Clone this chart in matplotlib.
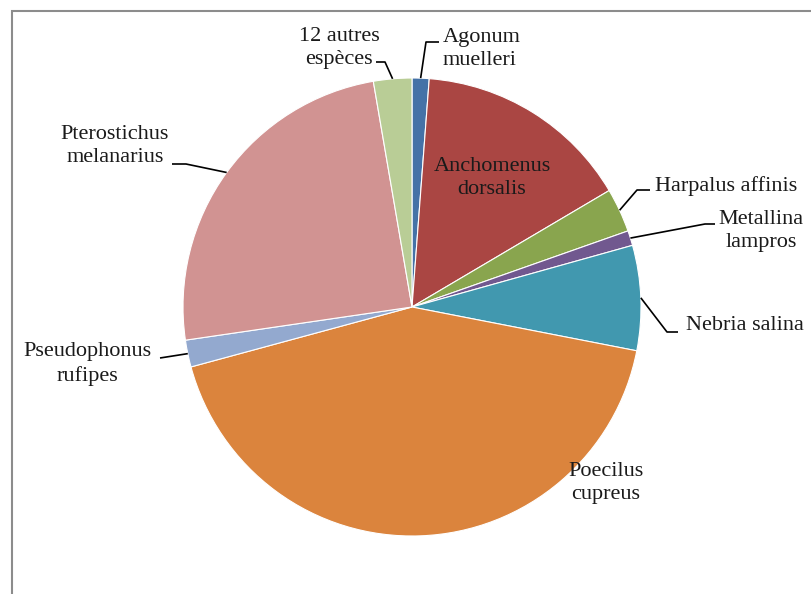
import numpy as np
import matplotlib
matplotlib.use("Agg")
import matplotlib.pyplot as plt
from matplotlib.patches import Rectangle

labels = ["Agonum\nmuelleri", "Anchomenus\ndorsalis", "Harpalus affinis",
          "Metallina\nlampros", "Nebria salina", "Poecilus\ncupreus",
          "Pseudophonus\nrufipes", "Pterostichus\nmelanarius", "12 autres\nespèces"]
values = [1.2, 15.3, 3.1, 1.05, 7.4, 42.7, 1.9, 24.6, 2.7]
colors = ["#4572A7", "#AA4643", "#89A54E", "#71588F", "#4198AF",
          "#DB843D", "#93A9CF", "#D19392", "#B9CD96"]

W, H = 811, 594
fig = plt.figure(figsize=(W / 100, H / 100), dpi=100)
ax = fig.add_axes([0, 0, 1, 1])
cx, cy, R = 412, H - 307, 229
wedges, _ = ax.pie(values, colors=colors, startangle=90, counterclock=False,
                   center=(cx, cy), radius=R,
                   wedgeprops=dict(edgecolor="white", linewidth=0.8))
ax.set_xlim(0, W)
ax.set_ylim(0, H)
ax.set_aspect("equal")
ax.axis("off")

font = dict(family="Liberation Serif", fontsize=16, color="#1a1a1a")
LS = 1.32

def edge(i, frac=1.0):
    w = wedges[i]
    th = np.deg2rad((w.theta1 + w.theta2) / 2)
    return cx + R * frac * np.cos(th), cy + R * frac * np.sin(th)

def P(x, y):
    return x, H - y

# label specs: (text position px, ha, leader polyline after edge point)
specs = {
    0: ((443, 49), "left", [(426, 42), (439, 42)]),
    2: ((655, 186), "left", [(637, 190), (650, 190)]),
    3: ((761, 231), "center", [(705, 224), (715, 224)]),
    4: ((686, 325), "left", [(667, 332), (678, 332)]),
    6: ((87, 364), "center", [(160, 358), (160, 358)]),
    7: ((115, 146), "center", [(186, 164), (172, 164)]),
    8: ((339, 48), "center", [(385, 62), (376, 62)]),
}
for i, (pos, ha, pts) in specs.items():
    ex, ey = edge(i)
    xs = [ex] + [P(*p)[0] for p in pts]
    ys = [ey] + [P(*p)[1] for p in pts]
    ax.plot(xs, ys, color="black", lw=1.2, solid_capstyle="butt")
    ax.text(*P(*pos), labels[i], ha=ha, va="center", linespacing=LS, **font)

ax.text(*P(492, 178), labels[1], ha="center", va="center", linespacing=LS, **font)
ax.text(*P(606, 483), labels[5], ha="center", va="center", linespacing=LS, **font)

fig.add_artist(Rectangle((12 / W, -0.1), 1.2, (H - 11) / H + 0.1, transform=fig.transFigure,
                         fill=False, edgecolor="#8c8c8c", linewidth=1.5))
fig.savefig("out.png", dpi=100)
